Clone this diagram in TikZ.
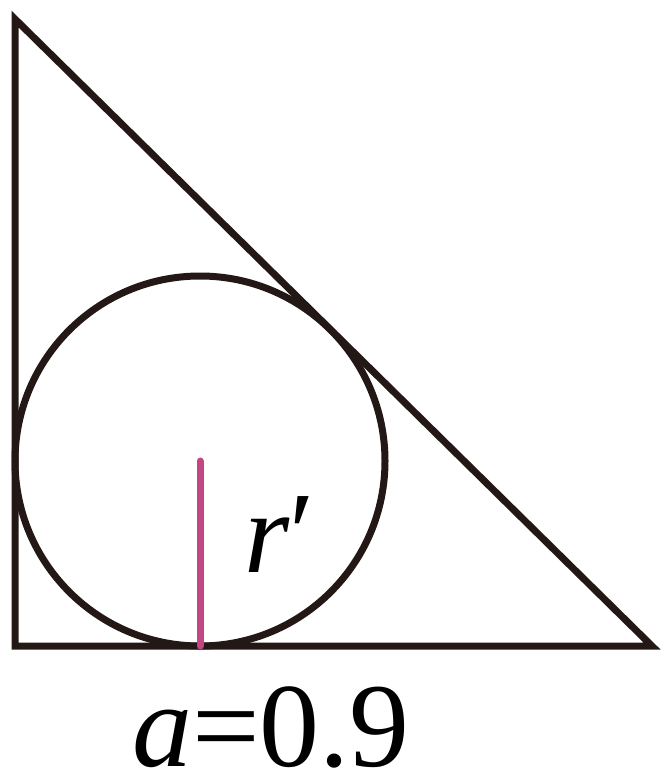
\documentclass[tikz,border=0pt]{standalone}
\usepackage{fontspec}
\setmainfont{Liberation Serif}
\definecolor{ink}{RGB}{35,24,21}
\definecolor{radcol}{RGB}{194,70,130}
\begin{document}
\begin{tikzpicture}[x=1pt,y=-1pt,
  edge/.style={draw=ink,line width=7pt,line join=miter},
  radius line/.style={draw=radcol,line width=7pt,line cap=round},
  lbl/.style={inner sep=0pt,text=black,text depth=0pt}]
\useasboundingbox (0,0) rectangle (671,778);
\coordinate (A) at (15,19);
\coordinate (B) at (15,646);
\coordinate (C) at (652,646);
\coordinate (O) at (200,461);
\coordinate (T) at (200,646);
\draw[edge] (A) -- (B) -- (C) -- cycle;
\draw[edge] (O) circle[radius=185];
\draw[radius line] (O) -- (T);
\node[lbl,anchor=base west,font=\fontsize{116}{120}\selectfont] (r) at (244,572) {\textit{r}′};
\node[lbl,anchor=base,font=\fontsize{120}{130}\selectfont] (a) at (271,766) {\textit{a}=0.9};
\end{tikzpicture}
\end{document}
